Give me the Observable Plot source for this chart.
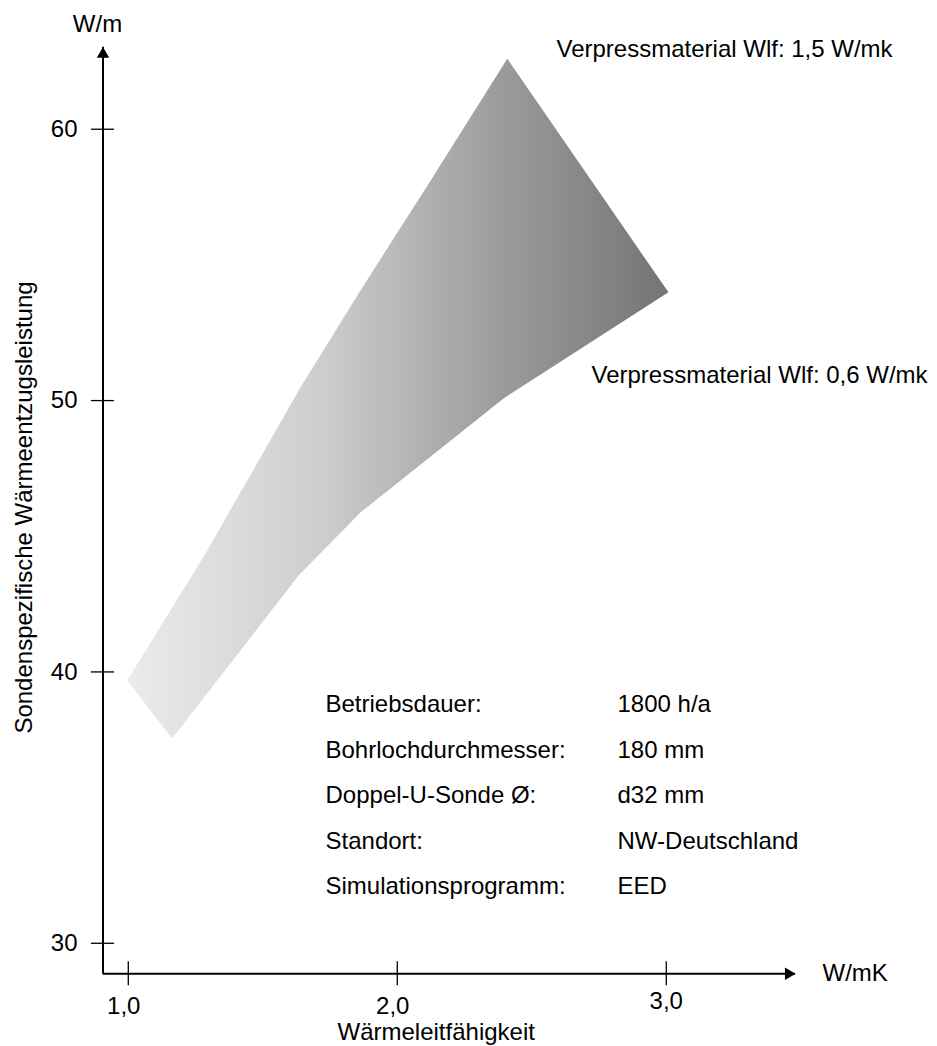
<!DOCTYPE html>
<html>
<head>
<meta charset="utf-8">
<script src="https://cdn.jsdelivr.net/npm/d3@7"></script>
<script src="https://cdn.jsdelivr.net/npm/@observablehq/plot@0.6"></script>
<style>
  body { margin: 0; background: #fff; }
</style>
</head>
<body>
<div id="chart"></div>
<script>
// ---- data ----
// upper boundary: grout conductivity 1.5 W/mK (left to right)
const upperX = [0.996, 1.287, 1.640, 1.856, 2.124, 2.409, 3.008];
const upperY = [39.68, 44.36, 50.48, 53.95, 58.11, 62.60, 53.99];
// lower boundary: grout conductivity 0.6 W/mK (left to right, shares both end points)
const lowerX = [0.996, 1.163, 1.633, 1.863, 2.395, 3.008];
const lowerY = [39.68, 37.55, 43.55, 45.875, 50.08, 53.99];

const xTicks = [1, 2, 3];
const xTickLabels = ["1,0", "2,0", "3,0"];
const yTicks = [30, 40, 50, 60];
const yTickLabels = ["30", "40", "50", "60"];

const infoLabels = ["Betriebsdauer:", "Bohrlochdurchmesser:", "Doppel-U-Sonde Ø:", "Standort:", "Simulationsprogramm:"];
const infoValues = ["1800 h/a", "180 mm", "d32 mm", "NW-Deutschland", "EED"];

const xTitle = "Wärmeleitfähigkeit";
const yTitle = "Sondenspezifische Wärmeentzugsleistung";
const xUnit = "W/mK";
const yUnit = "W/m";
const upperLabel = "Verpressmaterial Wlf: 1,5 W/mk";
const lowerLabel = "Verpressmaterial Wlf: 0,6 W/mk";

// ---- layout ----
const xMin = 0.906, xMax = 3.4804;
const yMin = 28.875, yMax = 63.023;
const W = 937, H = 1046;
const mL = 102.5, mR = W - 795, mT = 46.7, mB = H - 973.3;
const pxPerX = (W - mL - mR) / (xMax - xMin);
const pxPerY = (H - mT - mB) / (yMax - yMin);
const tickHalfY = 12 / pxPerY;
const tickHalfX = 11.6 / pxPerX;

// polygon: upper boundary then lower boundary reversed
const band = [];
upperX.forEach((x, i) => band.push({x, y: upperY[i]}));
for (let i = lowerX.length - 2; i >= 1; i--) band.push({x: lowerX[i], y: lowerY[i]});

const xTickData = xTicks.map((v, i) => ({v, label: xTickLabels[i]}));
const yTickData = yTicks.map((v, i) => ({v, label: yTickLabels[i]}));
const infoData = infoLabels.map((l, i) => ({i, label: l, value: infoValues[i]}));
const rowY = i => 38.52 - i * 1.68;

const font = "'Liberation Sans', Arial, Helvetica, sans-serif";

const plot = Plot.plot({
  width: W,
  height: H,
  marginLeft: mL,
  marginRight: mR,
  marginTop: mT,
  marginBottom: mB,
  x: {domain: [xMin, xMax], axis: null},
  y: {domain: [yMin, yMax], axis: null},
  style: {fontFamily: font, fontSize: "24px", background: "#fff", color: "#000", overflow: "visible"},
  marks: [
    // shaded band
    Plot.line(band, {x: "x", y: "y", fill: "url(#bandGradient)", stroke: "none", curve: "linear"}),
    // axis lines
    Plot.ruleY([yMin], {x1: xMin, x2: xMax, stroke: "#000", strokeWidth: 2}),
    Plot.ruleX([xMin], {y1: yMin, y2: yMax, stroke: "#000", strokeWidth: 2}),
    // arrow heads
    Plot.dot([0], {x: () => xMax, y: () => yMin, symbol: "triangle", r: 4.6, fill: "#000", stroke: "none", rotate: 90, dx: -7}),
    Plot.dot([0], {x: () => xMin, y: () => yMax, symbol: "triangle", r: 4.6, fill: "#000", stroke: "none", rotate: 0, dy: 7}),
    // ticks crossing the axes
    Plot.ruleX(xTicks, {x: d => d, y1: yMin - tickHalfY, y2: yMin + tickHalfY, stroke: "#000", strokeWidth: 1.3}),
    Plot.ruleY(yTicks, {y: d => d, x1: xMin - tickHalfX, x2: xMin + tickHalfX, stroke: "#000", strokeWidth: 1.3}),
    // tick labels
    Plot.text(xTickData.slice(0, 2), {x: "v", y: 27.41, text: "label", textAnchor: "middle", lineAnchor: "bottom", dx: -4.5, fontSize: 24, fill: "#000"}),
    Plot.text(xTickData.slice(2), {x: "v", y: 27.56, text: "label", textAnchor: "middle", lineAnchor: "bottom", fontSize: 24, fill: "#000"}),
    Plot.text(yTickData, {x: 0.8112, y: "v", text: "label", textAnchor: "end", lineAnchor: "middle", fontSize: 24, fill: "#000"}),
    // units and titles
    Plot.text([yUnit], {x: 0.8856, y: 63.58, text: d => d, textAnchor: "middle", lineAnchor: "bottom", fontSize: 24, fill: "#000"}),
    Plot.text([xUnit], {x: 3.5808, y: yMin, text: d => d, textAnchor: "start", lineAnchor: "middle", fontSize: 24, fill: "#000"}),
    Plot.text([xTitle], {x: 1.7778, y: 26.435, text: d => d, textAnchor: "start", lineAnchor: "bottom", fontSize: 24, fill: "#000"}),
    Plot.text([yTitle], {x: 0.6402, y: 46.06, text: d => d, textAnchor: "middle", lineAnchor: "bottom", rotate: -90, fontSize: 24, fill: "#000"}),
    // series annotations
    Plot.text([upperLabel], {x: 2.5919, y: 62.655, text: d => d, textAnchor: "start", lineAnchor: "bottom", fontSize: 24, fill: "#000"}),
    Plot.text([lowerLabel], {x: 2.722, y: 50.63, text: d => d, textAnchor: "start", lineAnchor: "bottom", fontSize: 24, fill: "#000"}),
    // info table
    Plot.text(infoData, {x: 1.7332, y: d => rowY(d.i), text: "label", textAnchor: "start", lineAnchor: "bottom", fontSize: 24, fill: "#000"}),
    Plot.text(infoData, {x: 2.8187, y: d => rowY(d.i), text: "value", textAnchor: "start", lineAnchor: "bottom", fontSize: 24, fill: "#000"})
  ]
});

// horizontal gradient for the band
const svg = d3.select(plot);
const defs = svg.insert("defs", ":first-child");
const grad = defs.append("linearGradient")
  .attr("id", "bandGradient")
  .attr("x1", "0").attr("y1", "0").attr("x2", "1").attr("y2", "0");
[["0%", "#ebebeb"], ["36%", "#cdcdcd"], ["70%", "#9a9a9a"], ["100%", "#747474"]]
  .forEach(([o, c]) => grad.append("stop").attr("offset", o).attr("stop-color", c));

document.getElementById("chart").appendChild(plot);
</script>
</body>
</html>
